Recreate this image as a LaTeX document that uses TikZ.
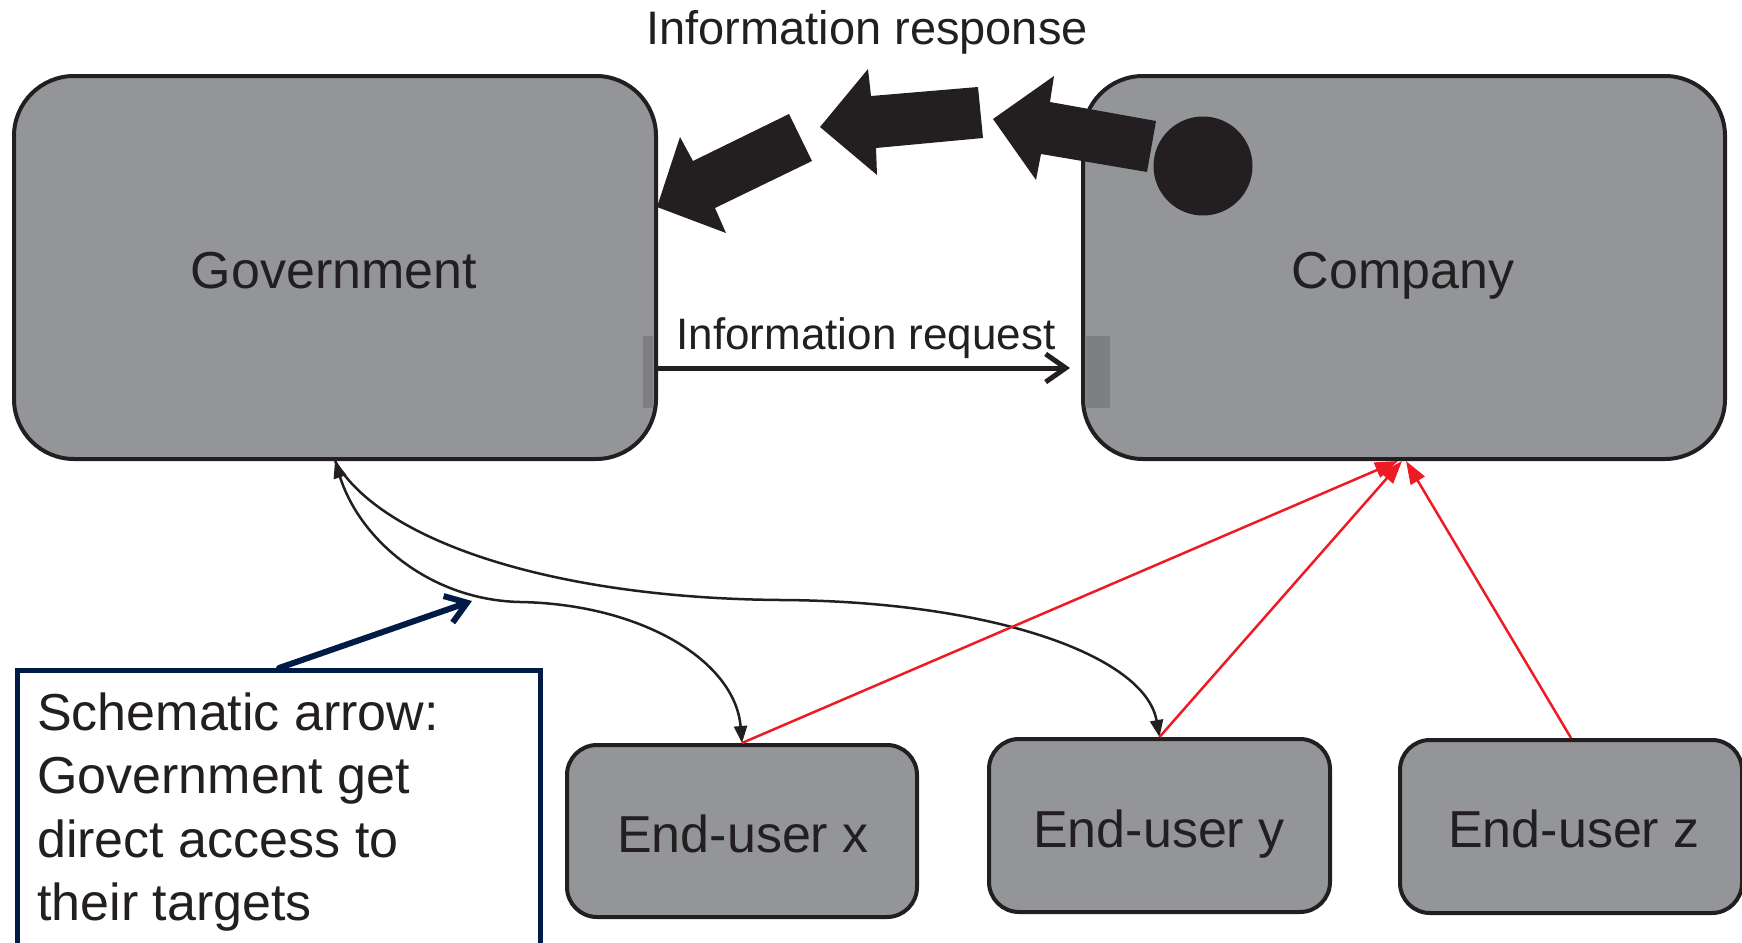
\documentclass[tikz,border=0pt]{standalone}
\usepackage{fontspec}
\setmainfont{Liberation Sans}
\usetikzlibrary{arrows.meta}

\definecolor{ink}{HTML}{231F20}
\definecolor{boxgray}{HTML}{939598}
\definecolor{bandgray}{HTML}{7E7F81}
\definecolor{navy}{HTML}{001C46}
\definecolor{arrowred}{HTML}{ED1C24}

\tikzset{
  bigbox/.style={draw=ink, fill=boxgray, line width=4pt, rounded corners=60pt,
    minimum width=642pt, minimum height=383pt, inner sep=0pt},
  userbox/.style={draw=ink, fill=boxgray, line width=4pt, rounded corners=30pt,
    inner sep=0pt},
  lbl/.style={text=ink, inner sep=0pt, font=\fontsize{52}{62}\selectfont},
  resplblstyle/.style={text=ink, inner sep=0pt, font=\fontsize{47}{56}\selectfont},
  reqlblstyle/.style={text=ink, inner sep=0pt, font=\fontsize{44}{53}\selectfont},
  blockarrow/.style={fill=ink, draw=none},
  thinlink/.style={draw=ink, line width=2.5pt, -{Triangle[length=17pt,width=13pt]}},
  bothlink/.style={draw=ink, line width=2.5pt,
    {Triangle[length=17pt,width=13pt]}-{Triangle[length=17pt,width=13pt]}},
  redlink/.style={draw=arrowred, line width=2.5pt, -{Triangle[length=23pt,width=16pt]}},
  reqarrow/.style={draw=ink, line width=5pt, line cap=round, line join=round,
    -{Straight Barb[length=20pt,width=28pt]}},
  navyarrow/.style={draw=navy, line width=6pt, line cap=round, line join=round,
    -{Straight Barb[length=20pt,width=28pt]}},
  notebox/.style={draw=navy, line width=5pt, fill=white, inner sep=0pt}
}

\begin{document}
\begin{tikzpicture}[x=1pt, y=-1pt]
\useasboundingbox (0,0) rectangle (1742,942);
\clip (0,0) rectangle (1742,942);

% main actors
\node[bigbox] (gov) at (335,267.5) {};
\node[bigbox] (company) at (1404,267.5) {};
\node[lbl, anchor=base] (govlbl) at (334,288) {Government};
\node[lbl, anchor=base] (complbl) at (1403,288) {Company};

% darker bands where the request arrow leaves and enters
\fill[bandgray] (643,336) rectangle (653,408);
\fill[bandgray] (1086,336) rectangle (1110,408);

% end users
\node[userbox, minimum width=350pt, minimum height=172pt] (endx) at (742,831) {};
\node[userbox, minimum width=341pt, minimum height=173pt] (endy) at (1159.5,825.5) {};
\node[userbox, minimum width=342pt, minimum height=173pt] (endz) at (1571,826.5) {};
\node[lbl, anchor=base] (xlbl) at (743,852) {End-user x};
\node[lbl, anchor=base] (ylbl) at (1159,847) {End-user y};
\node[lbl, anchor=base] (zlbl) at (1574,847) {End-user z};

% information request
\coordinate (reqy) at (0,368);
\draw[reqarrow] (gov.east |- reqy) -- ([xshift=-11pt]company.west |- reqy);
\node[reqlblstyle, anchor=base] (reqlbl) at (866,349) {Information request};

% information response: three block arrows leaving a dot
\node[resplblstyle, anchor=base] (resplbl) at (867,45) {Information response};
\fill[blockarrow] (1156,121) -- (1050,102) -- (1054,76) -- (993,119)
  -- (1036,180) -- (1041,154) -- (1147,172) -- cycle;
\fill[blockarrow] (978,87) -- (871,96) -- (868,69) -- (820,127)
  -- (877,175) -- (876,148) -- (983,138) -- cycle;
\fill[blockarrow] (789,114) -- (693,161) -- (680,137) -- (657,207)
  -- (726,233) -- (715,208) -- (812,161) -- cycle;
\node[circle, fill=ink, minimum size=99pt, inner sep=0pt] (dot) at (1203,166) {};

% direct access links from government to end users
\draw[bothlink] (gov.south) .. controls (360,540) and (430,600) .. (520,602)
  .. controls (640,604) and (735,660) .. (endx.north);
\draw[thinlink] (gov.south) .. controls (380,540) and (550,598) .. (780,600)
  .. controls (990,601) and (1145,655) .. (endy.north);

% end users reporting to the company
\draw[redlink] (endx.north) -- ([xshift=-6pt]company.south);
\draw[redlink] (endy.north) -- ([xshift=-2pt]company.south);
\draw[redlink] (endz.north) -- ([xshift=2pt]company.south);

% explanatory note
\node[notebox, minimum width=523pt, minimum height=290pt, anchor=north west]
  (note) at (15,668) {};
\node[anchor=base west, inner sep=0pt, text=ink] (notetext) at (37,730)
  {\parbox[t]{495pt}{\fontsize{52}{63.5}\selectfont\raggedright
   Schematic arrow:\\Government get\\direct access to\\their targets}};
\coordinate (navytip) at (472,601);
\draw[navyarrow] (note.north) -- (navytip);
\end{tikzpicture}
\end{document}
